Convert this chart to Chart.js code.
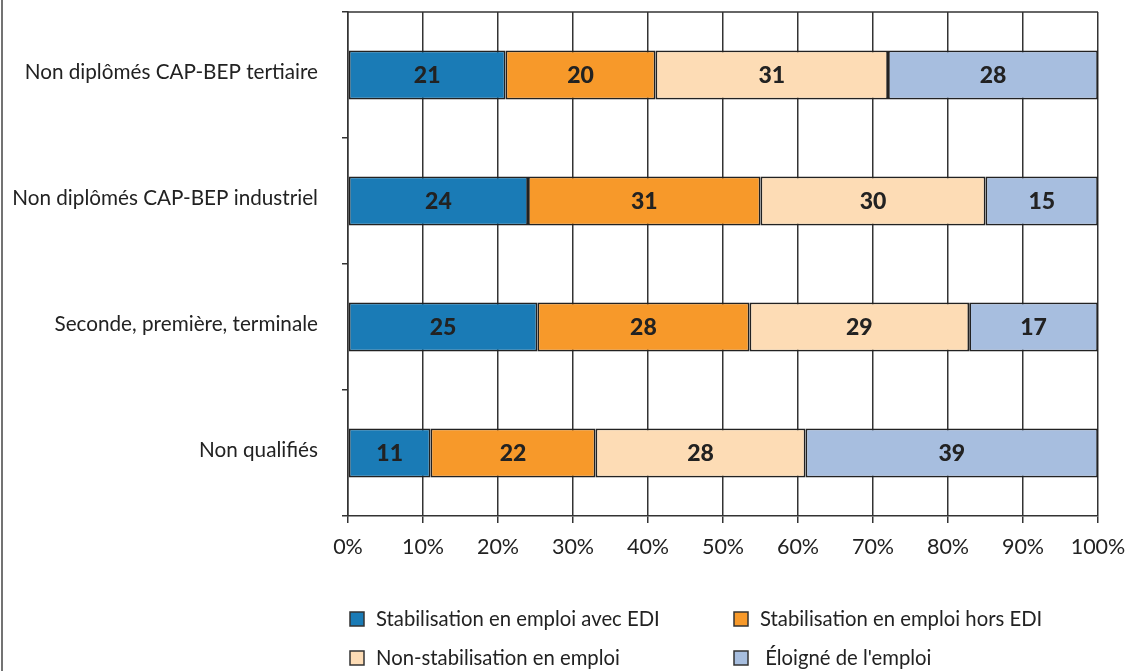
<!DOCTYPE html>
<html>
<head>
<meta charset="utf-8">
<script src="https://cdn.jsdelivr.net/npm/chart.js@4"></script>
<style>
  html, body { margin: 0; padding: 0; background: #fff; }
  #wrap { width: 1131px; height: 671px; position: relative; }
</style>
</head>
<body>
<div id="wrap"><canvas id="chart" width="1131" height="671"></canvas></div>
<script>
const categories = [
  "Non diplômés CAP-BEP tertiaire",
  "Non diplômés CAP-BEP industriel",
  "Seconde, première, terminale",
  "Non qualifiés"
];
const seriesNames = [
  "Stabilisation en emploi avec EDI",
  "Stabilisation en emploi hors EDI",
  "Non-stabilisation en emploi",
  " Éloigné de l'emploi"
];
const avecEdi = [21, 24, 25, 11];
const horsEdi = [20, 31, 28, 22];
const nonStab = [31, 30, 29, 28];
const eloigne = [28, 15, 17, 39];
const xTicks = [0, 10, 20, 30, 40, 50, 60, 70, 80, 90, 100];
const colors = ["#1a7bb6", "#f7992a", "#fddcb5", "#a7bedf"];

const FONT = "Lato, 'DejaVu Sans', sans-serif";
const raw = [avecEdi, horsEdi, nonStab, eloigne];
const totals = categories.map((c, i) => raw.reduce((s, arr) => s + arr[i], 0));

// shares so each bar fills 0-100%
const datasets = raw.map((arr, k) => ({
  label: seriesNames[k],
  data: arr.map((v, i) => v / totals[i] * 100),
  rawValues: arr,
  backgroundColor: colors[k],
  borderColor: "#222",
  borderWidth: 1.8,
  borderSkipped: false,
  categoryPercentage: 0.39,
  barPercentage: 1
}));

function noScalePadding(scale) {
  scale.paddingTop = 0;
  scale.paddingBottom = 0;
  scale.paddingLeft = 0;
  scale.paddingRight = 0;
}

const extras = {
  id: "extras",
  beforeDraw(chart) {
    const ctx = chart.ctx;
    ctx.save();
    ctx.fillStyle = "#fff";
    ctx.fillRect(0, 0, chart.width, chart.height);
    ctx.strokeStyle = "#444";
    ctx.lineWidth = 1.5;
    ctx.beginPath();
    ctx.moveTo(2, 0);
    ctx.lineTo(2, chart.height);
    ctx.stroke();
    ctx.restore();
  },
  afterDraw(chart) {
    const ctx = chart.ctx;
    const a = chart.chartArea;
    ctx.save();
    // top frame line
    ctx.strokeStyle = "#333";
    ctx.lineWidth = 1.5;
    ctx.beginPath();
    ctx.moveTo(a.left, a.top);
    ctx.lineTo(a.right, a.top);
    ctx.stroke();

    // value labels
    ctx.font = "900 23px " + FONT;
    ctx.fillStyle = "#222";
    ctx.textAlign = "center";
    ctx.textBaseline = "middle";
    chart.data.datasets.forEach((ds, k) => {
      chart.getDatasetMeta(k).data.forEach((bar, i) => {
        const p = bar.getProps(["x", "y", "base"], true);
        ctx.fillText(ds.rawValues[i], (p.x + p.base) / 2, p.y + 1);
      });
    });

    // legend, two columns
    const colX = [350, 734];
    const rowY = [619, 658];
    ctx.font = "20.3px " + FONT;
    ctx.textAlign = "left";
    seriesNames.forEach((name, k) => {
      const x = colX[k % 2];
      const y = rowY[Math.floor(k / 2)];
      ctx.fillStyle = colors[k];
      ctx.fillRect(x, y - 7, 14, 14);
      ctx.strokeStyle = "#333";
      ctx.lineWidth = 1.5;
      ctx.strokeRect(x, y - 7, 14, 14);
      ctx.fillStyle = "#222";
      ctx.fillText(name, x + 26, y);
    });
    ctx.restore();
  }
};

new Chart(document.getElementById("chart"), {
  type: "bar",
  data: { labels: categories, datasets: datasets },
  options: {
    indexAxis: "y",
    responsive: false,
    animation: false,
    layout: { padding: { top: 12, right: 33, left: 0, bottom: 0 } },
    plugins: {
      legend: { display: false },
      tooltip: { enabled: false }
    },
    scales: {
      x: {
        stacked: true,
        min: 0,
        max: 100,
        afterBuildTicks(scale) { scale.ticks = xTicks.map(v => ({ value: v })); },
        afterFit(scale) { scale.height = 155; noScalePadding(scale); },
        grid: { color: "#333", lineWidth: 1.5, tickLength: 7 },
        border: { color: "#333", width: 1.5 },
        ticks: {
          padding: 11,
          color: "#222",
          font: { family: FONT, size: 21.5 },
          callback: v => v + "%"
        }
      },
      y: {
        stacked: true,
        afterFit(scale) { scale.width = 348; noScalePadding(scale); },
        grid: { drawOnChartArea: false, offset: true, tickLength: 6, color: "#333", lineWidth: 1.5 },
        border: { color: "#333", width: 1.5 },
        ticks: {
          padding: 24,
          labelOffset: -3,
          color: "#222",
          font: { family: FONT, size: 20.7 }
        }
      }
    }
  },
  plugins: [extras]
});
</script>
</body>
</html>
